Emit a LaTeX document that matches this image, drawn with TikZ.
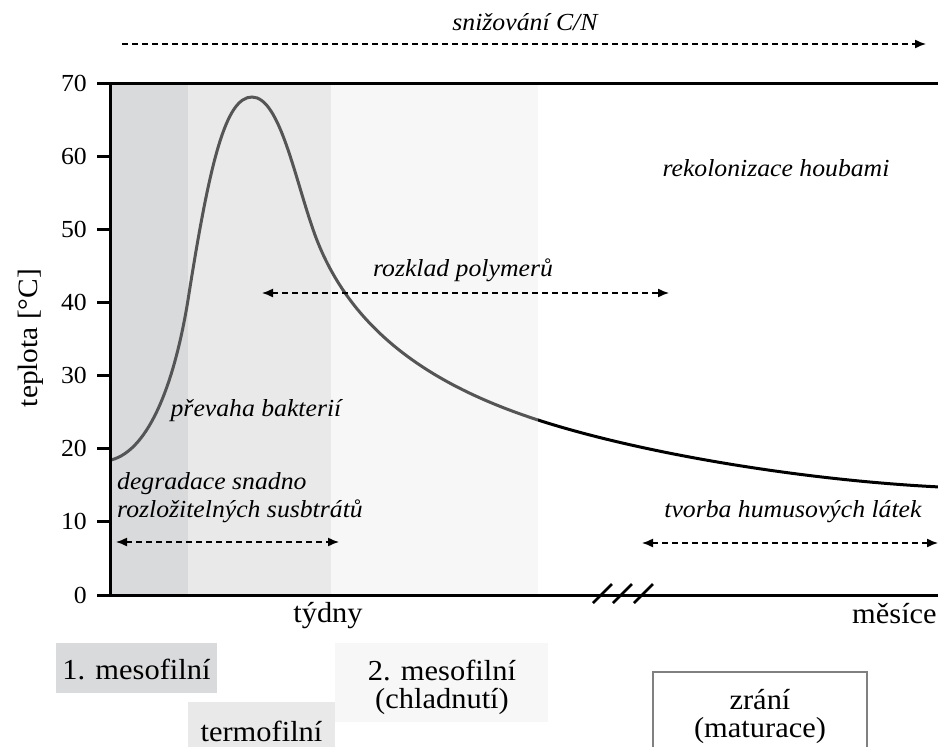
\documentclass[tikz,border=0pt]{standalone}
\usepackage{fontspec}
\setmainfont{Liberation Serif}[FakeStretch=1.05]
\usetikzlibrary{
	arrows.meta
}
\definecolor{phaseA}{HTML}{D9DADC}
\definecolor{phaseB}{HTML}{E9E9E9}
\definecolor{phaseC}{HTML}{F7F7F7}
\definecolor{curvegray}{HTML}{555555}
\tikzset{
	axis line/.style={line width=3pt, black},
	tick text/.style={anchor=east, inner sep=0pt, font=\fontsize{24.5}{26}\selectfont},
	note text/.style={inner sep=0pt, font=\itshape\fontsize{24.5}{28}\selectfont},
	phase label/.style={inner sep=0pt, align=center, font=\fontsize{29}{28}\selectfont},
	dashed arrow/.style={line width=1.4pt, dash pattern=on 6pt off 4pt,
		-{Latex[length=11pt,width=9pt]}},
	dashed both/.style={dashed arrow,
		{Latex[length=11pt,width=9pt]}-{Latex[length=11pt,width=9pt]}},
	temp curve/.style={line width=3pt}
}

\begin{document}
\begin{tikzpicture}[x=1pt,y=-1pt]
	\useasboundingbox (0,0) rectangle (938,747);
	% phases in the plot
	\fill[phaseA] (110,83) rectangle (188,595);
	\fill[phaseB] (188,83) rectangle (331,595);
	\fill[phaseC] (331,83) rectangle (538,595);
	% temperature curve, grey over the phases and black after them
	\foreach \xa/\xb/\col in {0/538/curvegray, 538/938/black}{
		\begin{scope}
			\clip (\xa,0) rectangle (\xb,747);
			\draw[temp curve, \col] (111,460) .. controls (150,450) and (175,380) .. (188,300)
				.. controls (210,160) and (226,97) .. (252,97)
				.. controls (280,97) and (295,180) .. (315,235)
				.. controls (350,330) and (430,385) .. (538,420)
				.. controls (640,453) and (800,480) .. (940,487);
		\end{scope}
	}
	% axes
	\draw[axis line] (97,83) -- (938,83);
	\draw[axis line] (110,83) -- (110,596.5);
	\draw[axis line] (97,595) -- (938,595);
	\foreach \t in {0,...,6}{
		\draw[axis line] (97,{595-73.14*\t}) -- (110,{595-73.14*\t});
	}
	\foreach \t in {0,...,7}{
		\node[tick text] (tick\t) at (87,{595-73.14*\t}) {\number\numexpr\t*10\relax};
	}
	\node[rotate=90, inner sep=0pt, font=\fontsize{28}{28}\selectfont] (ylabel) at (31,338) {teplota [°C]};
	% axis break
	\foreach \s in {603,623,644}{
		\draw[line width=2.5pt] (\s-10,603) -- (\s+9,584);
	}
	\node[anchor=base, inner sep=0pt, font=\fontsize{29}{28}\selectfont] (weeks) at (328,622) {týdny};
	\node[anchor=base west, inner sep=0pt, font=\fontsize{29}{28}\selectfont] (months) at (852,623) {měsíce};
	% processes
	\node[note text] (cn) at (525,22) {snižování C/N};
	\coordinate (cn-l) at (122,44);
	\coordinate (cn-r) at (926,44);
	\draw[dashed arrow] (cn-l) -- (cn-r);
	\node[note text] (fungi) at (776,168) {rekolonizace houbami};
	\node[note text] (poly) at (463,270) {rozklad polymerů};
	\coordinate (poly-l) at (262,293);
	\coordinate (poly-r) at (669,293);
	\draw[dashed both] (poly-l) -- (poly-r);
	\node[note text] (bact) at (256,411) {převaha bakterií};
	\node[note text, anchor=north west, align=left] (degr) at (117,472) {degradace snadno\\rozložitelných susbtrátů};
	\coordinate (degr-l) at (116,542);
	\coordinate (degr-r) at (339,542);
	\draw[dashed both] (degr-l) -- (degr-r);
	\node[note text] (humus) at (793,512) {tvorba humusových látek};
	\coordinate (humus-l) at (642,543);
	\coordinate (humus-r) at (938,543);
	\draw[dashed both] (humus-l) -- (humus-r);
	% phase legend
	\fill[phaseA] (56,643) rectangle (217,693);
	\node[phase label] (meso1) at (136.5,669) {1. mesofilní};
	\fill[phaseB] (188,702) rectangle (335,760);
	\node[phase label, anchor=base] (thermo) at (261.5,741) {termofilní};
	\fill[phaseC] (335,643) rectangle (548,722);
	\node[phase label] (meso2) at (442,687) {2. mesofilní\\(chladnutí)};
	\draw[line width=1.2pt, gray] (653,672) rectangle (867,760);
	\node[phase label] (mature) at (760,716) {zrání\\(maturace)};
\end{tikzpicture}
\end{document}
